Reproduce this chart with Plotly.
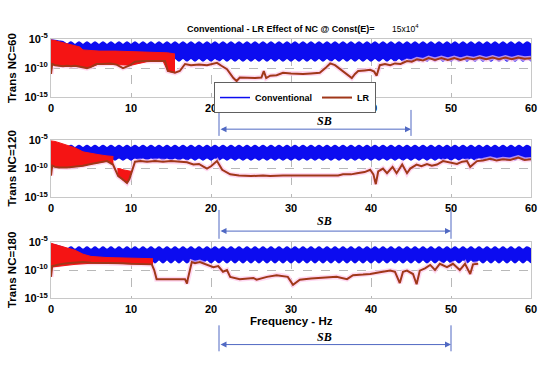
import numpy as np
import plotly.graph_objects as go

# ---------------- data (log10 of transmissibility) ----------------
conv_f = [i * 0.5 for i in range(121)]  # frequency grid, Hz

conv1_hi = [-5.2, -5.3, -5.4, -5.5, -5.9,
            -5.55, -6.0, -5.55, -6.0, -5.55, -6.0, -5.55, -6.0, -5.55, -6.0, -5.55, -6.0, -5.55, -6.0, -5.55, -6.0, -5.55, -6.0, -5.55, -6.0,
            -5.55, -6.0, -5.55, -6.0, -5.55, -6.0, -5.55, -6.0, -5.55, -6.0, -5.55, -6.0, -5.55, -6.0, -5.55, -6.0, -5.55, -6.0, -5.55, -6.0,
            -5.55, -6.0, -5.55, -6.0, -5.55, -6.0, -5.55, -6.0, -5.55, -6.0, -5.55, -6.0, -5.55, -6.0, -5.55, -6.0, -5.55, -6.0, -5.55, -6.0,
            -5.55, -6.0, -5.55, -6.0, -5.55, -6.0, -5.55, -6.0, -5.55, -6.0, -5.55, -6.0, -5.55, -6.0, -5.55, -6.0, -5.55, -6.0, -5.55, -6.0,
            -5.55, -6.0, -5.55, -6.0, -5.55, -6.0, -5.55, -6.0, -5.55, -6.0, -5.55, -6.0, -5.55, -6.0, -5.55, -6.0, -5.55, -6.0, -5.55, -6.0,
            -5.55, -6.0, -5.55, -6.0, -5.55, -6.0, -5.55, -6.0, -5.55, -6.0, -5.55, -6.0, -5.55, -6.0, -5.55, -6.0]
conv1_lo = [-8.3,
            -8.3, -8.8, -8.3, -8.8, -8.3, -8.8, -8.3, -8.8, -8.3, -8.8, -8.3, -8.8, -8.3, -8.8, -8.3, -8.8, -8.3, -8.8, -8.3, -8.8,
            -8.3, -8.8, -8.3, -8.8, -8.3, -8.8, -8.3, -8.8, -8.3, -8.8, -8.3, -8.8, -8.3, -8.8, -8.3, -8.8, -8.3, -8.8, -8.3, -8.8,
            -8.3, -8.8, -8.3, -8.8, -8.3, -8.8, -8.3, -8.8, -8.3, -8.8, -8.3, -8.8, -8.3, -8.8, -8.3, -8.8, -8.3, -8.8, -8.3, -8.8,
            -8.3, -8.8, -8.3, -8.8, -8.3, -8.8, -8.3, -8.8, -8.3, -8.8, -8.3, -8.8, -8.3, -8.8, -8.3, -8.8, -8.3, -8.8, -8.3, -8.8,
            -8.3, -8.8, -8.3, -8.8, -8.3, -8.8, -8.3, -8.8, -8.3, -8.8, -8.3, -8.8, -8.3, -8.8, -8.3, -8.8, -8.3, -8.8, -8.3, -8.8,
            -8.3, -8.8, -8.3, -8.8, -8.3, -8.8, -8.3, -8.8, -8.3, -8.8, -8.3, -8.8, -8.3, -8.8, -8.3, -8.8, -8.3, -8.8, -8.3, -8.8]

conv2_hi = [-5.5, -5.6, -5.8, -6.0, -6.3,
            -6.0, -6.4, -6.0, -6.4, -6.0, -6.4, -6.0, -6.4, -6.0, -6.4, -6.0, -6.4, -6.0, -6.4, -6.0, -6.4, -6.0, -6.4, -6.0, -6.4,
            -6.0, -6.4, -6.0, -6.4, -6.0, -6.4, -6.0, -6.4, -6.0, -6.4, -6.0, -6.4, -6.0, -6.4, -6.0, -6.4, -6.0, -6.4, -6.0, -6.4,
            -6.0, -6.4, -6.0, -6.4, -6.0, -6.4, -6.0, -6.4, -6.0, -6.4, -6.0, -6.4, -6.0, -6.4, -6.0, -6.4, -6.0, -6.4, -6.0, -6.4,
            -6.0, -6.4, -6.0, -6.4, -6.0, -6.4, -6.0, -6.4, -6.0, -6.4, -6.0, -6.4, -6.0, -6.4, -6.0, -6.4, -6.0, -6.4, -6.0, -6.4,
            -6.0, -6.4, -6.0, -6.4, -6.0, -6.4, -6.0, -6.4, -6.0, -6.4, -6.0, -6.4, -6.0, -6.4, -6.0, -6.4, -6.0, -6.4, -6.0, -6.4,
            -6.0, -6.4, -6.0, -6.4, -6.0, -6.4, -6.0, -6.4, -6.0, -6.4, -6.0, -6.4, -6.0, -6.4, -6.0, -6.4]
conv2_lo = [-8.1,
            -8.1, -8.5, -8.1, -8.5, -8.1, -8.5, -8.1, -8.5, -8.1, -8.5, -8.1, -8.5, -8.1, -8.5, -8.1, -8.5, -8.1, -8.5, -8.1, -8.5,
            -8.1, -8.5, -8.1, -8.5, -8.1, -8.5, -8.1, -8.5, -8.1, -8.5, -8.1, -8.5, -8.1, -8.5, -8.1, -8.5, -8.1, -8.5, -8.1, -8.5,
            -8.1, -8.5, -8.1, -8.5, -8.1, -8.5, -8.1, -8.5, -8.1, -8.5, -8.1, -8.5, -8.1, -8.5, -8.1, -8.5, -8.1, -8.5, -8.1, -8.5,
            -8.1, -8.5, -8.1, -8.5, -8.1, -8.5, -8.1, -8.5, -8.1, -8.5, -8.1, -8.5, -8.1, -8.5, -8.1, -8.5, -8.1, -8.5, -8.1, -8.5,
            -8.1, -8.5, -8.1, -8.5, -8.1, -8.5, -8.1, -8.5, -8.1, -8.5, -8.1, -8.5, -8.1, -8.5, -8.1, -8.5, -8.1, -8.5, -8.1, -8.5,
            -8.1, -8.5, -8.1, -8.5, -8.1, -8.5, -8.1, -8.5, -8.1, -8.5, -8.1, -8.5, -8.1, -8.5, -8.1, -8.5, -8.1, -8.5, -8.1, -8.5]

conv3_hi = [-5.5, -5.6, -5.8, -6.0, -6.3,
            -5.95, -6.35, -5.95, -6.35, -5.95, -6.35, -5.95, -6.35, -5.95, -6.35, -5.95, -6.35, -5.95, -6.35, -5.95, -6.35, -5.95, -6.35, -5.95, -6.35,
            -5.95, -6.35, -5.95, -6.35, -5.95, -6.35, -5.95, -6.35, -5.95, -6.35, -5.95, -6.35, -5.95, -6.35, -5.95, -6.35, -5.95, -6.35, -5.95, -6.35,
            -5.95, -6.35, -5.95, -6.35, -5.95, -6.35, -5.95, -6.35, -5.95, -6.35, -5.95, -6.35, -5.95, -6.35, -5.95, -6.35, -5.95, -6.35, -5.95, -6.35,
            -5.95, -6.35, -5.95, -6.35, -5.95, -6.35, -5.95, -6.35, -5.95, -6.35, -5.95, -6.35, -5.95, -6.35, -5.95, -6.35, -5.95, -6.35, -5.95, -6.35,
            -5.95, -6.35, -5.95, -6.35, -5.95, -6.35, -5.95, -6.35, -5.95, -6.35, -5.95, -6.35, -5.95, -6.35, -5.95, -6.35, -5.95, -6.35, -5.95, -6.35,
            -5.95, -6.35, -5.95, -6.35, -5.95, -6.35, -5.95, -6.35, -5.95, -6.35, -5.95, -6.35, -5.95, -6.35, -5.95, -6.35]
conv3_lo = [-8.2,
            -8.2, -8.7, -8.2, -8.7, -8.2, -8.7, -8.2, -8.7, -8.2, -8.7, -8.2, -8.7, -8.2, -8.7, -8.2, -8.7, -8.2, -8.7, -8.2, -8.7,
            -8.2, -8.7, -8.2, -8.7, -8.2, -8.7, -8.2, -8.7, -8.2, -8.7, -8.2, -8.7, -8.2, -8.7, -8.2, -8.7, -8.2, -8.7, -8.2, -8.7,
            -8.2, -8.7, -8.2, -8.7, -8.2, -8.7, -8.2, -8.7, -8.2, -8.7, -8.2, -8.7, -8.2, -8.7, -8.2, -8.7, -8.2, -8.7, -8.2, -8.7,
            -8.2, -8.7, -8.2, -8.7, -8.2, -8.7, -8.2, -8.7, -8.2, -8.7, -8.2, -8.7, -8.2, -8.7, -8.2, -8.7, -8.2, -8.7, -8.2, -8.7,
            -8.2, -8.7, -8.2, -8.7, -8.2, -8.7, -8.2, -8.7, -8.2, -8.7, -8.2, -8.7, -8.2, -8.7, -8.2, -8.7, -8.2, -8.7, -8.2, -8.7,
            -8.2, -8.7, -8.2, -8.7, -8.2, -8.7, -8.2, -8.7, -8.2, -8.7, -8.2, -8.7, -8.2, -8.7, -8.2, -8.7, -8.2, -8.7, -8.2, -8.7]

# dense LR resonance region (red band)
red1_f = [0, 0.1, 0.5, 1, 2, 3, 3.6, 4, 5, 6, 8, 10, 12, 14, 14.6, 15.5]
red1_hi = [-5.2, -5.2, -5.3, -5.5, -5.8, -6.1, -6.4, -6.9, -7.0, -7.1, -7.1, -7.2, -7.3, -7.3, -7.4, -7.6]
red1_lo = [-11.0, -9.3, -9.5, -9.6, -9.6, -9.6, -9.7, -9.9, -9.8, -9.3, -9.4, -9.5, -8.9, -8.8, -10.5, -10.8]

red2_f = [0, 0.1, 0.5, 1, 2, 3, 4, 5, 6, 7, 7.8]
red2_hi = [-5.2, -5.2, -5.3, -5.5, -5.9, -6.4, -7.1, -7.4, -7.6, -7.8, -7.9]
red2_lo = [-11.2, -9.5, -9.7, -9.8, -9.8, -9.7, -9.5, -9.2, -9.0, -8.7, -9.3]
red2b_f = [8.3, 8.6, 9.0, 9.4, 9.8, 10.1]
red2b_hi = [-10.0, -10.0, -10.2, -10.3, -10.5, -10.5]
red2b_lo = [-10.8, -11.5, -12.0, -12.4, -11.8, -10.5]

red3_f = [0, 0.1, 0.5, 1, 2, 3, 4, 5, 7, 9, 11, 12.75]
red3_hi = [-5.3, -5.3, -5.5, -5.7, -6.0, -6.5, -7.2, -7.6, -7.8, -7.9, -8.0, -8.0]
red3_lo = [-11.2, -9.5, -9.4, -9.3, -9.2, -9.0, -8.9, -8.8, -8.8, -8.9, -8.9, -9.0]

# LR curve
lr1_f = [0.0, 0.15, 0.5, 1.0, 1.5, 2, 2.5, 3, 3.5, 4, 4.5, 5, 5.7, 6.5, 7.4, 8.2, 9.0, 9.9, 10.5, 11.5,
         12.5, 13.5, 14.25, 14.6, 15.0, 15.5, 16.1, 16.75, 17.5, 18.5, 19.5, 20.2, 20.75, 21.3, 22.0, 22.8, 23.2, 23.6, 24.5, 25.5,
         26.3, 26.6, 26.9, 27.4, 28.2, 29.0, 30.0, 31.5, 32.5, 33.6, 34.3, 34.9, 35.5, 36.4, 37.0, 37.6, 38.0, 38.4, 39.2, 39.9,
         40.4, 40.7, 41.1, 41.75, 42.4, 43.0, 43.7, 44.5, 45.1, 45.75, 46.5, 47.2, 48.0, 48.8, 49.6, 50.4, 51.2, 52.0, 52.8, 53.6,
         54.4, 55.2, 56.0, 56.8, 57.6, 58.4, 59.2, 60.0]
lr1_v = [-11.0, -9.3, -9.5, -9.6, -9.7, -9.6, -9.7, -9.6, -9.7, -9.9, -10.0, -9.8, -9.3, -9.3, -9.2, -9.4, -10.0, -9.5, -8.9, -8.8,
         -8.8, -8.9, -8.8, -10.5, -10.6, -10.8, -10.5, -9.3, -9.5, -9.4, -9.5, -9.3, -9.1, -9.6, -10.2, -11.7, -12.2, -11.6, -11.7, -11.7,
         -11.6, -10.5, -11.7, -11.3, -11.2, -10.8, -10.9, -11.0, -10.9, -10.8, -10.0, -9.2, -9.5, -10.5, -11.0, -11.7, -11.0, -10.5, -10.4, -10.3,
         -10.6, -11.3, -9.5, -9.3, -9.5, -9.2, -9.3, -8.8, -8.9, -8.5, -8.7, -8.3, -8.6, -8.3, -8.6, -8.3, -8.6, -8.3, -8.5, -8.2,
         -8.5, -8.2, -8.5, -8.2, -8.5, -8.2, -8.4, -8.3]

lr2_f = [0.0, 0.15, 0.5, 1, 2, 3, 4, 5, 6, 7, 7.75, 8.2, 8.4, 8.9, 9.2, 9.5, 9.8, 10.1, 10.5, 11.2,
         12, 13, 14, 15, 16, 17, 17.8, 18.5, 19.0, 19.5, 20.0, 20.3, 20.75, 21.4, 22.4, 23.5, 25, 26.5, 27.4, 29,
         31, 33, 35, 35.9, 36.5, 37.5, 38.25, 39.2, 39.9, 40.3, 40.6, 40.9, 41.5, 42.0, 42.7, 43.2, 43.9, 44.5, 44.9, 45.7,
         46.3, 47.0, 47.6, 48.25, 49.0, 50.0, 50.75, 51.4, 52.0, 52.4, 53.25, 54.0, 54.9, 55.7, 56.5, 57.4, 58.4, 59.2, 60.0]
lr2_v = [-11.2, -9.5, -9.7, -9.8, -9.8, -9.7, -9.5, -9.2, -9.0, -8.7, -9.3, -10.5, -11.3, -11.8, -12.2, -12.5, -11.8, -10.5, -8.8, -8.7,
         -8.8, -8.7, -8.8, -8.7, -8.8, -8.9, -9.3, -9.2, -9.6, -10.0, -9.6, -9.3, -8.7, -10.2, -11.0, -11.2, -11.3, -11.2, -11.3, -11.2,
         -11.2, -11.3, -11.2, -11.2, -11.0, -11.0, -10.8, -10.6, -10.2, -11.0, -12.7, -10.5, -10.0, -10.8, -9.7, -10.8, -9.3, -10.8, -10.0, -9.3,
         -9.6, -9.2, -9.5, -9.3, -8.7, -9.0, -9.2, -8.8, -8.7, -9.7, -8.7, -8.6, -8.3, -8.6, -8.4, -8.5, -8.1, -8.5, -8.4]

lr3_f = [0.0, 0.15, 0.5, 1, 2, 3, 4, 5, 6, 7, 8, 9, 10, 11, 12, 12.6, 12.9, 13.2, 14, 15,
         16, 16.75, 17.0, 17.1, 17.6, 18.0, 18.6, 19.5, 20.3, 20.9, 21.5, 22.0, 22.4, 23.6, 24.5, 25.3, 25.7, 26.5, 27.0, 28.2,
         29.0, 29.6, 30.25, 31.1, 32.5, 33.6, 35.0, 35.7, 37.0, 37.75, 39.0, 39.9, 41.1, 42.4, 43.0, 43.6, 44.0, 44.5, 45.25, 45.7,
         46.1, 46.75, 47.4, 48.0, 48.6, 49.5, 50.25, 51.1, 51.75, 52.4, 52.75, 53.4]
lr3_v = [-11.2, -9.3, -9.2, -9.0, -8.8, -8.7, -8.6, -8.7, -8.7, -8.8, -8.8, -8.8, -8.9, -8.9, -8.9, -9.0, -10.0, -11.6, -11.6, -11.6,
         -11.6, -11.6, -12.4, -11.6, -8.6, -8.8, -8.6, -9.1, -9.5, -9.3, -10.3, -10.0, -11.2, -11.6, -11.5, -11.4, -11.7, -11.4, -11.2, -10.9,
         -11.0, -11.2, -12.6, -11.7, -11.5, -11.4, -11.3, -11.2, -11.6, -10.9, -10.8, -10.7, -10.4, -10.1, -10.3, -12.3, -10.3, -10.1, -10.7, -12.5,
         -10.1, -9.7, -9.1, -10.0, -8.9, -9.5, -8.9, -10.0, -8.9, -10.7, -9.0, -8.9]

panel_titles = ["Trans NC=60", "Trans NC=120", "Trans NC=180"]
x_ticks = [0, 10, 20, 30, 40, 50, 60]
y_tickvals = [1e-15, 1e-10, 1e-5]
y_ticktext = ["10<sup>-15</sup>", "10<sup>-10</sup>", "10<sup>-5</sup>"]
sb_ranges = [(21, 45), (21, 50), (21, 50)]

# ---------------- style ----------------
W, H = 550, 365
FONT = "Arial, Liberation Sans, sans-serif"
BLUE = "rgb(12,12,240)"
RED = "rgb(245,20,20)"
BROWN = "rgb(160,55,25)"
PINK = "rgba(255,200,235,0.7)"
ARROW = "rgb(80,105,195)"

def py(p):  # pixel row -> paper
    return 1 - p / H

def px(p):  # pixel column -> paper
    return (p - 51) / 480

domains = [(py(93), py(32)), (py(197), py(137)), (py(302), py(243))]

def e(v):
    return [10 ** a for a in v]

fig = go.Figure()
conv = [(conv1_hi, conv1_lo), (conv2_hi, conv2_lo), (conv3_hi, conv3_lo)]
reds = [[(red1_f, red1_hi, red1_lo)],
        [(red2_f, red2_hi, red2_lo), (red2b_f, red2b_hi, red2b_lo)],
        [(red3_f, red3_hi, red3_lo)]]
lrs = [(lr1_f, lr1_v), (lr2_f, lr2_v), (lr3_f, lr3_v)]

for k in range(3):
    xa = "x" if k == 0 else f"x{k+1}"
    ya = "y" if k == 0 else f"y{k+1}"
    hi, lo = conv[k]
    fig.add_trace(go.Scatter(x=conv_f, y=e(lo), mode="lines", line=dict(color=BLUE, width=1.5, shape="spline"),
                             name="Conventional", showlegend=(k == 0), xaxis=xa, yaxis=ya))
    fig.add_trace(go.Scatter(x=conv_f, y=e(hi), mode="lines", line=dict(color=BLUE, width=1.5, shape="spline"),
                             fill="tonexty", fillcolor=BLUE, showlegend=False, xaxis=xa, yaxis=ya))
    lf, lv = lrs[k]
    fig.add_trace(go.Scatter(x=lf, y=e(lv), mode="lines", line=dict(color=PINK, width=5),
                             showlegend=False, xaxis=xa, yaxis=ya))
    for (rf, rh, rl) in reds[k]:
        fig.add_trace(go.Scatter(x=rf, y=e(rl), mode="lines", line=dict(color=RED, width=1),
                                 showlegend=False, xaxis=xa, yaxis=ya))
        fig.add_trace(go.Scatter(x=rf, y=e(rh), mode="lines", line=dict(color=RED, width=1),
                                 fill="tonexty", fillcolor=RED, showlegend=False, xaxis=xa, yaxis=ya))
    fig.add_trace(go.Scatter(x=lf, y=e(lv), mode="lines", line=dict(color=BROWN, width=2),
                             name="LR", showlegend=(k == 0), xaxis=xa, yaxis=ya))

axis_common = dict(range=[0, 60], tickvals=x_ticks, showgrid=True, gridcolor="#b8b8b8", griddash="dash",
                   gridwidth=1, showline=True, mirror=True, linecolor="#c8c8c8", linewidth=1, ticks="",
                   zeroline=False, tickfont=dict(family=FONT, size=11, color="black", weight="bold"))
yaxis_common = dict(type="log", range=[-15, -5], tickvals=y_tickvals, ticktext=y_ticktext, showgrid=True,
                    gridcolor="#b8b8b8", griddash="dash", showline=True, mirror=True, linecolor="#c8c8c8",
                    linewidth=1, ticks="", zeroline=False,
                    tickfont=dict(family=FONT, size=11, color="black", weight="bold"))

layout = dict(width=W, height=H, margin=dict(l=51, r=19, t=0, b=0), plot_bgcolor="white",
              paper_bgcolor="white", showlegend=True)
for k in range(3):
    xs = "xaxis" if k == 0 else f"xaxis{k+1}"
    ys = "yaxis" if k == 0 else f"yaxis{k+1}"
    layout[xs] = dict(axis_common, domain=[0, 1], anchor="y" if k == 0 else f"y{k+1}")
    layout[ys] = dict(yaxis_common, domain=list(domains[k]), anchor="x" if k == 0 else f"x{k+1}")

layout["legend"] = dict(orientation="h", x=px(214), y=py(77), xanchor="left", yanchor="top",
                        bordercolor="#606060", borderwidth=1, bgcolor="white", itemwidth=30,
                        traceorder="normal", entrywidth=0,
                        font=dict(family=FONT, size=9, color="black", weight="bold"),
                        tracegroupgap=0)
fig.update_layout(**layout)

ann = []
ann.append(dict(text="<b>Conventional - LR Effect of NC @ Const(E)=</b>", x=px(281), y=py(22),
                xref="paper", yref="paper", xanchor="center", yanchor="middle", showarrow=False,
                font=dict(family=FONT, size=9, color="black")))
ann.append(dict(text="15x10<sup>4</sup>", x=px(390), y=py(21), xref="paper", yref="paper",
                xanchor="left", yanchor="middle", showarrow=False,
                font=dict(family=FONT, size=8.5, color="black")))
for k in range(3):
    cy = (domains[k][0] + domains[k][1]) / 2
    ann.append(dict(text="<b>" + panel_titles[k] + "</b>", x=px(12), y=cy, xref="paper", yref="paper",
                    xanchor="center", yanchor="middle", textangle=-90, showarrow=False,
                    font=dict(family=FONT, size=11.5, color="black")))
ann.append(dict(text="<b>Frequency - Hz</b>", x=30, xref="x3", y=py(325), yref="paper",
                xanchor="center", yanchor="middle", showarrow=False,
                font=dict(family=FONT, size=11.5, color="black")))

arrow_rows = [126, 232, 350]
vert_rows = [(106, 133), (210, 240), (330, 357)]
sb_rows = [118, 222, 342]
shapes = []
for k in range(3):
    a, b = sb_ranges[k]
    ann.append(dict(text="", x=b, y=py(arrow_rows[k]), xref="x", yref="paper", ax=a, axref="x", ay=0,
                    ayref="pixel", showarrow=True, arrowside="end+start", arrowhead=2, arrowsize=1.2,
                    arrowwidth=1, arrowcolor=ARROW))
    ann.append(dict(text="<b><i>SB</i></b>", x=34.2, y=py(sb_rows[k]), xref="x", yref="paper",
                    xanchor="center", yanchor="middle", showarrow=False,
                    font=dict(family="Liberation Serif, Times New Roman, serif", size=12, color="black")))
    for xv in (a, b):
        shapes.append(dict(type="line", xref="x", yref="paper", x0=xv, x1=xv, y0=py(vert_rows[k][0]),
                           y1=py(vert_rows[k][1]), line=dict(color=ARROW, width=1)))
fig.update_layout(annotations=ann, shapes=shapes)

fig.write_html("out.html", config={"displayModeBar": False},
               post_script="document.body.style.margin='0';")
